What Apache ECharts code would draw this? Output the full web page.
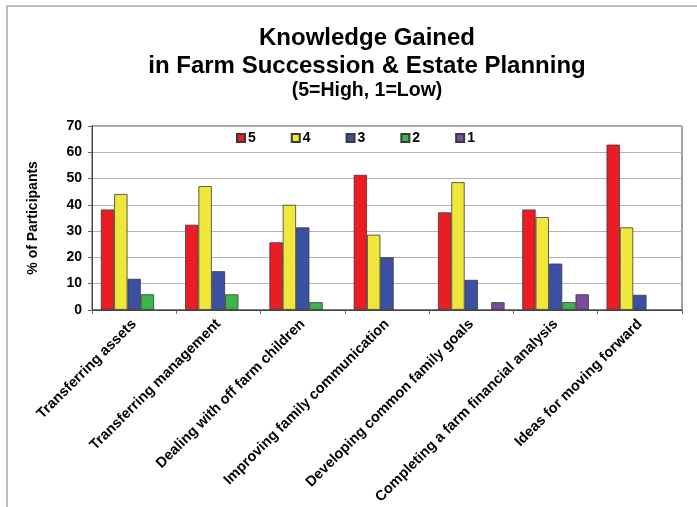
<!DOCTYPE html>
<html>
<head>
<meta charset="utf-8">
<script src="https://cdn.jsdelivr.net/npm/echarts@6/dist/echarts.min.js"></script>
<style>
html,body{margin:0;padding:0;background:#fff;}
#chart{width:697px;height:507px;}
</style>
</head>
<body>
<div id="chart"></div>
<script>
const categories = [
  'Transferring assets',
  'Transferring management',
  'Dealing with off farm children',
  'Improving family communication',
  'Developing common family goals',
  'Completing a farm financial analysis',
  'Ideas for moving forward'
];
const seriesNames = ['5', '4', '3', '2', '1'];
const values5 = [38.2, 32.4, 25.7, 51.4, 37.1, 38.2, 62.9];
const values4 = [44.1, 47.1, 40.0, 28.6, 48.6, 35.3, 31.4];
const values3 = [11.8, 14.7, 31.4, 20.0, 11.4, 17.6, 5.7];
const values2 = [5.9, 5.9, 2.9, null, null, 2.9, null];
const values1 = [null, null, null, null, 2.9, 5.9, null];
const yTicks = [0, 10, 20, 30, 40, 50, 60, 70];

const colors = ['#ec1c24', '#efe83a', '#3b50a2', '#3ab54a', '#7a4c9e'];
const allValues = [values5, values4, values3, values2, values1];

const chart = echarts.init(document.getElementById('chart'), null, {renderer: 'canvas'});
const FONT = '"Liberation Sans", Arial, sans-serif';

const option = {
  backgroundColor: '#ffffff',
  animation: false,
  textStyle: {fontFamily: FONT},
  graphic: [
    {type: 'polyline', shape: {points: [[7, 520], [7, 6], [710, 6]]}, style: {stroke: '#a8a8a8', lineWidth: 1.5, fill: null}},
    {type: 'text', x: 367, y: 38.5, style: {text: 'Knowledge Gained', textAlign: 'center', textVerticalAlign: 'middle', font: 'bold 24px ' + FONT, fill: '#000'}},
    {type: 'text', x: 367, y: 66.5, style: {text: 'in Farm Succession & Estate Planning', textAlign: 'center', textVerticalAlign: 'middle', font: 'bold 24px ' + FONT, fill: '#000'}},
    {type: 'text', x: 367, y: 90.5, style: {text: '(5=High, 1=Low)', textAlign: 'center', textVerticalAlign: 'middle', font: 'bold 19.5px ' + FONT, fill: '#000'}}
  ],
  legend: {
    data: seriesNames,
    left: 236,
    top: 131,
    padding: 0,
    icon: 'rect',
    itemWidth: 8,
    itemHeight: 8,
    itemGap: 35,
    textStyle: {fontSize: 14, fontWeight: 'bold', color: '#000', fontFamily: FONT, padding: [0, 0, 0, -2]}
  },
  grid: {
    left: 92, right: 15, top: 126, bottom: 195,
    show: true, borderColor: '#444', borderWidth: 1, backgroundColor: '#fff'
  },
  xAxis: {
    type: 'category',
    data: categories,
    axisLine: {lineStyle: {color: '#444', width: 1}},
    axisTick: {show: true, length: 4, lineStyle: {color: '#666'}},
    axisLabel: {rotate: 45, margin: 12, fontSize: 14.5, fontWeight: 'bold', color: '#000', fontFamily: FONT, interval: 0}
  },
  yAxis: {
    type: 'value',
    min: 0, max: 70, interval: 10,
    name: '% of Participants',
    nameLocation: 'middle',
    nameRotate: 90,
    nameGap: 52,
    nameTextStyle: {fontSize: 14, fontWeight: 'bold', color: '#000', fontFamily: FONT},
    axisLine: {show: true, lineStyle: {color: '#444', width: 1}},
    axisTick: {show: true, inside: false, length: 4, lineStyle: {color: '#666'}},
    axisLabel: {margin: 10, fontSize: 14, fontWeight: 'bold', color: '#000', fontFamily: FONT,
      formatter: v => (yTicks.indexOf(v) >= 0 ? String(v) : '')},
    splitLine: {show: true, lineStyle: {color: '#b4b4b4', width: 1.2}}
  },
  series: seriesNames.map((name, i) => ({
    name: name,
    type: 'bar',
    data: allValues[i],
    barGap: '0%',
    barCategoryGap: '21%',
    itemStyle: {color: colors[i], borderColor: '#3a3a3a', borderWidth: 0.8}
  }))
};
chart.setOption(option);
</script>
</body>
</html>
